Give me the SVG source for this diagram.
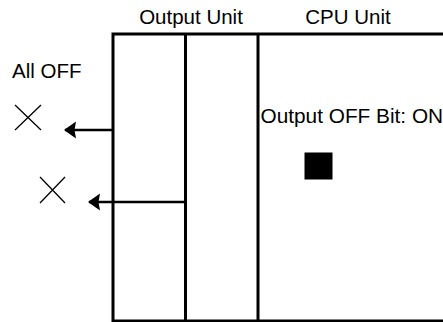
<svg xmlns="http://www.w3.org/2000/svg" width="443" height="322" viewBox="0 0 443 322">
<defs>
<style>
text{font-family:"Liberation Sans",Arial,sans-serif;font-size:20.5px;fill:#000}
.big{font-size:20.8px}
.box{fill:none;stroke:#000;stroke-width:3}
.ln{fill:none;stroke:#000;stroke-width:2.5}
.x{fill:none;stroke:#000;stroke-width:1.3}
</style>
<marker id="ah" markerUnits="userSpaceOnUse" markerWidth="12" markerHeight="18" refX="11" refY="9" orient="auto" viewBox="0 0 12 18">
<path d="M12,9 L0,0.5 L1.5,9 L0,17.5 Z" fill="#000"/>
</marker>
</defs>
<rect width="443" height="322" fill="#fff"/>
<g id="output-unit">
<path class="box" d="M445,34 H113 V321 H445"/>
<line class="box" x1="185.5" y1="34" x2="185.5" y2="321"/>
<text x="191" y="24" text-anchor="middle">Output Unit</text>
</g>
<g id="cpu-unit">
<line class="box" x1="258" y1="34" x2="258" y2="321"/>
<text x="348" y="24" text-anchor="middle">CPU Unit</text>
<text class="big" x="260.5" y="123">Output OFF Bit: ON</text>
<rect x="304.5" y="152.5" width="28" height="27" fill="#000"/>
</g>
<g id="outputs">
<text x="12" y="78">All OFF</text>
<path class="x" d="M15,105 L41,130 M41,105 L15,130"/>
<path class="x" d="M40,177 L65,203 M65,177 L40,203"/>
</g>
<g id="connectors">
<line class="ln" x1="113" y1="130" x2="65" y2="130" marker-end="url(#ah)"/>
<line class="ln" x1="185" y1="202" x2="89" y2="202" marker-end="url(#ah)"/>
</g>
</svg>
